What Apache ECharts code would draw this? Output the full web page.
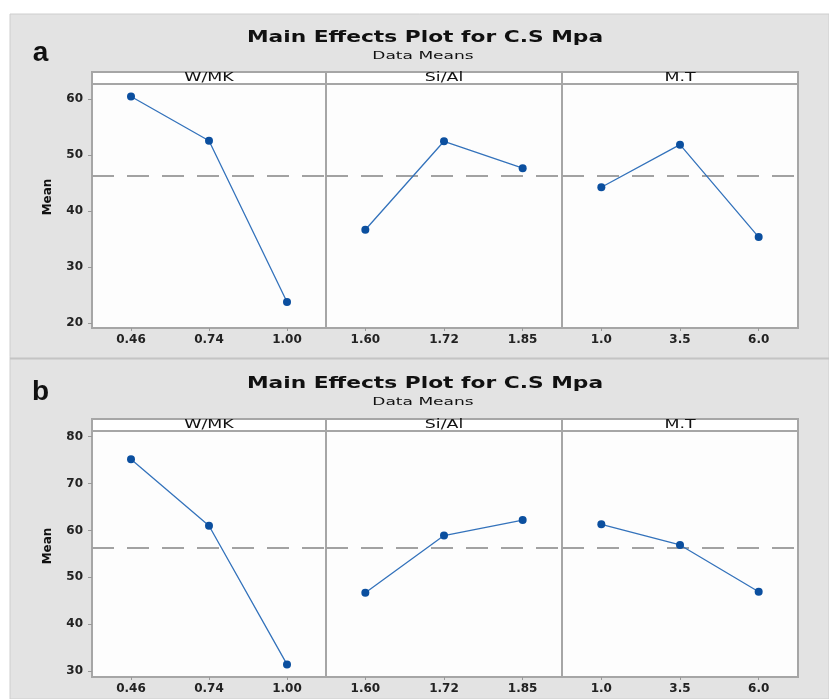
<!DOCTYPE html>
<html>
<head>
<meta charset="utf-8">
<script src="https://cdn.jsdelivr.net/npm/echarts@6/dist/echarts.min.js"></script>
<style>
  html, body { margin: 0; padding: 0; background: #ffffff; }
  #chart { width: 829px; height: 699px; }
</style>
</head>
<body>
<div id="chart"></div>
<script>
// Factor names and their levels
const factors = ['W/MK', 'Si/Al', 'M.T'];
const levelsWMK = ['0.46', '0.74', '1.00'];
const levelsSiAl = ['1.60', '1.72', '1.85'];
const levelsMT = ['1.0', '3.5', '6.0'];

// Mean compressive strength (MPa) at each level — mix set (a)
const meansA_WMK = [60.5, 52.6, 23.8];
const meansA_SiAl = [36.7, 52.5, 47.7];
const meansA_MT = [44.3, 51.9, 35.4];
// Mean compressive strength (MPa) at each level — mix set (b)
const meansB_WMK = [75.2, 61.0, 31.4];
const meansB_SiAl = [46.7, 58.9, 62.2];
const meansB_MT = [61.3, 56.9, 46.9];

// Overall means (dashed reference lines)
const grandMeanA = 46.4;
const grandMeanB = 56.3;

// Y tick labels
const ticksA = [20, 30, 40, 50, 60];
const ticksB = [30, 40, 50, 60, 70, 80];

const panelTags = ['a', 'b'];
const titleText = 'Main Effects Plot for C.S Mpa';
const subtitleText = 'Data Means';
const yName = 'Mean';

// ---- layout ----
const panelX = [92, 326, 562];
const panelW = [234, 236, 236];
const rows = [
  { top: 84, height: 244, stripTop: 72, min: 19.16, max: 62.73, titleY: 38, subY: 56, tagY: 53, nameY: 197,
    ticks: ticksA, mean: grandMeanA, data: [meansA_WMK, meansA_SiAl, meansA_MT] },
  { top: 431, height: 246, stripTop: 419, min: 28.72, max: 81.22, titleY: 384, subY: 402, tagY: 392, nameY: 546,
    ticks: ticksB, mean: grandMeanB, data: [meansB_WMK, meansB_SiAl, meansB_MT] }
];
const levels = [levelsWMK, levelsSiAl, levelsMT];

const FONT = 'DejaVu Sans';
const borderColor = '#a6a6a6';
const lineColor = '#3372bb';
const markerColor = '#0b4f9f';

const grids = [], xAxes = [], yAxes = [], series = [];
const graphics = [];

// gray page background and row separator
graphics.push({ type: 'rect', z: -10, shape: { x: 10, y: 14, width: 819, height: 685 },
  style: { fill: '#e3e3e3', stroke: '#cecece', lineWidth: 1 } });
graphics.push({ type: 'line', z: -9, shape: { x1: 10, y1: 358.5, x2: 829, y2: 358.5 },
  style: { stroke: '#c4c4c4', lineWidth: 2 } });

rows.forEach((row, r) => {
  // panel tag, title and subtitle
  graphics.push({ type: 'text', x: 40.5, y: row.tagY, z: 20,
    style: { text: panelTags[r], font: 'bold 28px "Liberation Sans"', fill: '#111',
      textAlign: 'center', textVerticalAlign: 'middle' } });
  graphics.push({ type: 'text', x: 425, y: row.titleY, scaleX: 1.45, z: 20,
    style: { text: titleText, font: 'bold 15px "' + FONT + '"', fill: '#111',
      textAlign: 'center', textVerticalAlign: 'middle' } });
  graphics.push({ type: 'text', x: 423, y: row.subY, scaleX: 1.55, z: 20,
    style: { text: subtitleText, font: '11px "' + FONT + '"', fill: '#111',
      textAlign: 'center', textVerticalAlign: 'middle' } });
  // y axis title
  graphics.push({ type: 'text', x: 48, y: row.nameY, rotation: Math.PI / 2, z: 20,
    style: { text: yName, font: 'bold 12px "' + FONT + '"', fill: '#111',
      textAlign: 'center', textVerticalAlign: 'middle' } });

  factors.forEach((f, c) => {
    const idx = r * 3 + c;
    // factor strip above each panel
    graphics.push({ type: 'rect', z: 15, shape: { x: panelX[c], y: row.stripTop, width: panelW[c], height: row.top - row.stripTop },
      style: { fill: '#ffffff', stroke: borderColor, lineWidth: 2 } });
    graphics.push({ type: 'text', x: panelX[c] + panelW[c] / 2, y: row.stripTop + 5.5, scaleX: 1.45, z: 16,
      style: { text: f, font: '12px "' + FONT + '"', fill: '#111',
        textAlign: 'center', textVerticalAlign: 'middle' } });

    grids.push({ left: panelX[c], top: row.top, width: panelW[c], height: row.height,
      show: true, backgroundColor: '#fdfdfd', borderColor: borderColor, borderWidth: 2,
      containLabel: false, outerBoundsMode: 'none' });

    xAxes.push({ type: 'category', gridIndex: idx, data: levels[c], boundaryGap: true,
      axisLine: { show: false },
      axisTick: { show: true, alignWithLabel: true, length: 3, lineStyle: { color: '#999' } },
      axisLabel: { margin: 6, fontFamily: FONT, fontWeight: 'bold', fontSize: 12, color: '#222' },
      splitLine: { show: false } });

    const first = c === 0;
    yAxes.push({ type: 'value', gridIndex: idx, min: row.min, max: row.max,
      axisLine: { show: false },
      axisTick: { show: first, length: 4, customValues: row.ticks, lineStyle: { color: '#999' } },
      axisLabel: { show: first, customValues: row.ticks, margin: 9, fontFamily: FONT, fontWeight: 'bold', fontSize: 12, color: '#222' },
      splitLine: { show: false } });

    series.push({ type: 'line', xAxisIndex: idx, yAxisIndex: idx, data: row.data[c],
      symbol: 'circle', symbolSize: 8,
      lineStyle: { color: lineColor, width: 1.3 },
      itemStyle: { color: markerColor },
      z: 5,
      markLine: { silent: true, symbol: 'none', animation: false,
        label: { show: false },
        lineStyle: { type: [22, 13], color: '#a2a2a2', width: 2 },
        data: [{ yAxis: row.mean }] } });
  });
});

const chart = echarts.init(document.getElementById('chart'), null, { renderer: 'canvas' });
chart.setOption({
  animation: false,
  backgroundColor: '#ffffff',
  grid: grids,
  xAxis: xAxes,
  yAxis: yAxes,
  series: series,
  graphic: graphics
});
</script>
</body>
</html>
